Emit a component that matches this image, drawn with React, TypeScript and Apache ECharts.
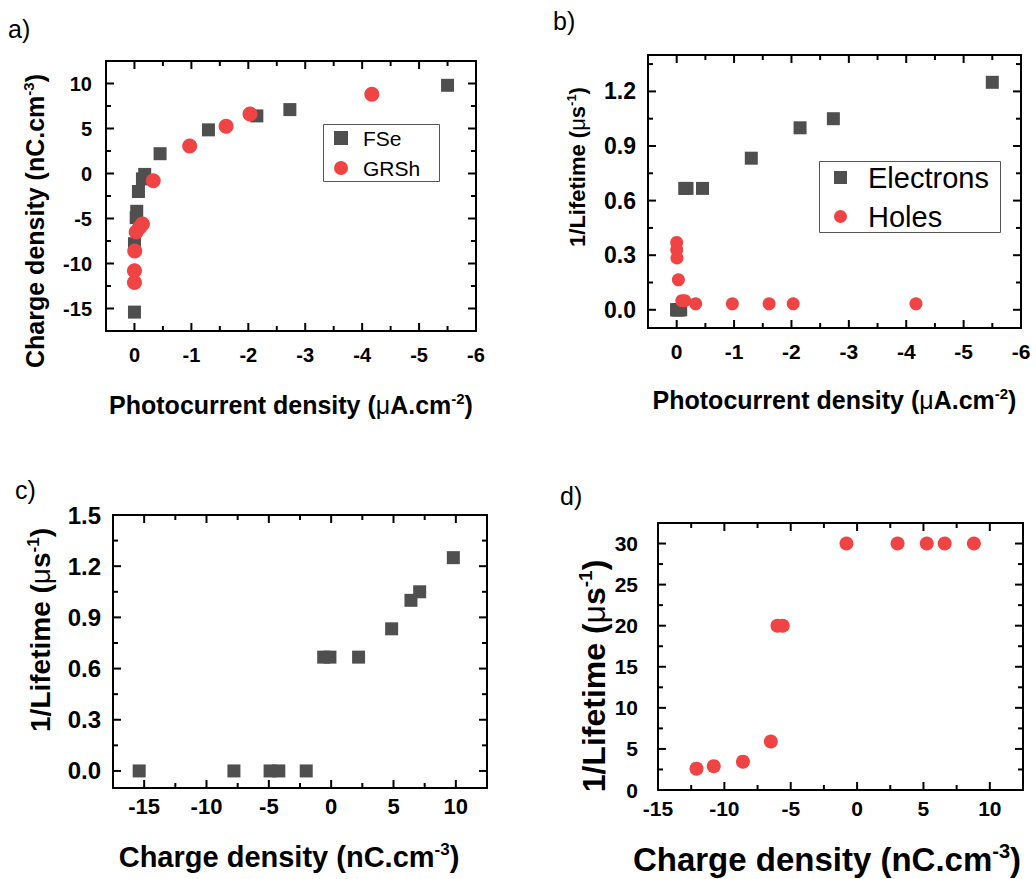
import React, { useEffect, useRef } from "react";
import * as echarts from "echarts";

// ---- data ----
// FSe / electrons
const fseCurrent = [0, 0, -0.03, -0.04, -0.07, -0.14, -0.18, -0.45, -1.3, -2.15, -2.73, -5.5];
const fseCharge = [-15.4, -7.8, -4.9, -4.2, -2.0, -0.6, -0.1, 2.2, 4.85, 6.4, 7.1, 9.8];
const fseInvLifetime = [0, 0, 0, 0, 0, 0.667, 0.667, 0.667, 0.833, 1.0, 1.05, 1.25];
// GRSh / holes
const grshCurrent = [0, 0, -0.005, -0.03, -0.09, -0.14, -0.33, -0.97, -1.61, -2.03, -4.17];
const grshCharge = [-12.1, -10.8, -8.6, -6.5, -6.0, -5.6, -0.8, 3.05, 5.25, 6.6, 8.8];
const holesInvLifetime = [0.37, 0.33, 0.285, 0.165, 0.05, 0.05, 0.033, 0.033, 0.033, 0.033, 0.033];
const holesLifetimeD = [2.6, 2.9, 3.45, 5.9, 20, 20, 30, 30, 30, 30, 30];

// axis ranges: [min, max, major, minor]
const axA_x = [-6, 0.5, 1, 0.5];
const axA_y = [-17.5, 12.5, 5, 2.5];
const axB_x = [-6, 0.5, 1, 0.5];
const axB_y = [-0.1, 1.4, 0.3, 0.15];
const axC_x = [-17.5, 12.5, 5, 2.5];
const axC_y = [-0.1, 1.5, 0.3, 0.15];
const axD_x = [-15, 12.5, 5, 2.5];
const axD_y = [0, 32.5, 5, 2.5];

const legendA = ["FSe", "GRSh"];
const legendB = ["Electrons", "Holes"];
const panelLabels = ["a)", "b)", "c)", "d)"];

const FONT = '"Liberation Sans", Arial, Helvetica, sans-serif';
const GRAY = "#4f4f4f";
const RED = "#f04343";

const zip = (a: number[], b: number[]) => a.map((v, i) => [v, b[i]]);

const isMult = (v: number, step: number) => {
  const r = v / step;
  return Math.abs(r - Math.round(r)) < 1e-6;
};
const fmtInt = (v: number) => (Math.abs(v) < 1e-9 ? "0" : String(Math.round(v)));
const fmt1 = (v: number) => (Math.abs(v) < 1e-9 ? "0.0" : v.toFixed(1));

const line = { show: true, onZero: false, lineStyle: { color: "#000", width: 2 } };

function richTitle(size: number) {
  return {
    t: { fontSize: size, fontWeight: "bold", fontFamily: FONT, color: "#000", lineHeight: Math.round(size * 1.1) },
    m: { fontSize: size, fontWeight: "normal", fontFamily: FONT, color: "#000", lineHeight: Math.round(size * 1.1) },
    s: {
      fontSize: Math.round(size * 0.6),
      fontWeight: "bold",
      fontFamily: FONT,
      color: "#000",
      verticalAlign: "top",
      lineHeight: Math.round(size * 0.6),
    },
  };
}

type AxOpts = {
  inverse?: boolean;
  fmt: (v: number) => string;
  fontSize: number;
  margin: number;
  name: string;
  nameSize: number;
  nameGap: number;
  namePad: number[];
};

// main axis (labels + line) and mirrored axis (line only)
function makeAxes(dim: "x" | "y", grid: number, r: number[], opts: AxOpts) {
  const [min, max, major] = r;
  const base: any = {
    type: "value",
    gridIndex: grid,
    min,
    max,
    splitLine: { show: false },
    minorTick: { show: false },
    axisTick: { show: false },
    minInterval: major,
    maxInterval: major,
    splitNumber: Math.round((max - min) / major),
  };
  if (opts.inverse) base.inverse = true;
  return [
    {
      ...base,
      position: dim === "x" ? "bottom" : "left",
      name: opts.name,
      nameLocation: "middle",
      nameGap: opts.nameGap,
      nameTextStyle: { rich: richTitle(opts.nameSize), padding: opts.namePad },
      axisLine: line,
      axisLabel: {
        show: true,
        showMinLabel: true,
        showMaxLabel: true,
        fontSize: opts.fontSize,
        fontWeight: "bold",
        fontFamily: FONT,
        color: "#000",
        margin: opts.margin,
        formatter: (v: number) => (isMult(v, major) ? opts.fmt(v) : ""),
      },
    },
    { ...base, position: dim === "x" ? "top" : "right", axisLine: line, axisLabel: { show: false } },
  ];
}

// tick values (inside the frame) generated from an axis range; kind offset 0 for x, 2 for y
function tickData(r: number[], kindBase: number) {
  const [min, max, major, minor] = r;
  const out: number[][] = [];
  const k0 = Math.ceil(min / minor - 1e-9);
  const k1 = Math.floor(max / minor + 1e-9);
  for (let k = k0; k <= k1; k++) {
    const v = Math.round(k * minor * 1e6) / 1e6;
    if (Math.abs(v - min) < 1e-9 || Math.abs(v - max) < 1e-9) continue;
    out.push([v, kindBase + (isMult(v, major) ? 0 : 1)]);
  }
  return out;
}

const tickStyle = { stroke: "#000", lineWidth: 2 };

function renderTick(params: any, api: any) {
  const v = api.value(0);
  const kind = api.value(1);
  const cs = params.coordSys;
  const len = kind % 2 === 0 ? 8 : 5;
  if (kind < 2) {
    const px = api.coord([v, 0])[0];
    const yb = cs.y + cs.height;
    return {
      type: "group",
      children: [
        { type: "line", shape: { x1: px, y1: yb, x2: px, y2: yb - len }, style: tickStyle },
        { type: "line", shape: { x1: px, y1: cs.y, x2: px, y2: cs.y + len }, style: tickStyle },
      ],
    };
  }
  const py = api.coord([0, v])[1];
  const xr = cs.x + cs.width;
  return {
    type: "group",
    children: [
      { type: "line", shape: { x1: cs.x, y1: py, x2: cs.x + len, y2: py }, style: tickStyle },
      { type: "line", shape: { x1: xr, y1: py, x2: xr - len, y2: py }, style: tickStyle },
    ],
  };
}

function tickSeries(panel: number, rx: number[], ry: number[]) {
  return {
    type: "custom",
    name: "ticks " + panel,
    xAxisIndex: panel * 2,
    yAxisIndex: panel * 2,
    clip: false,
    silent: true,
    z: 1,
    renderItem: renderTick,
    data: [...tickData(rx, 0), ...tickData(ry, 2)],
  };
}

const photoTitle = "{t|Photocurrent density (}{m|μ}{t|A.cm}{s|-2}{t|)}";
const chargeTitle = "{t|Charge density (nC.cm}{s|-3}{t|)}";
const lifeTitle = "{t|1/Lifetime (}{m|μ}{t|s}{s|-1}{t|)}";

function panelTitle(text: string, left: number, top: number) {
  return {
    text,
    left,
    top,
    padding: 0,
    textStyle: { fontSize: 25, fontWeight: "normal", fontFamily: FONT, color: "#000" },
  };
}

// legend boxes drawn as bordered text blocks
function legendBox(
  names: string[],
  left: number,
  top: number,
  opt: { icon: number; gap: number; font: number; lh: number; pad: number[] }
) {
  const mid = { verticalAlign: "middle", lineHeight: opt.lh };
  return {
    text: `{sq| }{g| }{tx|${names[0]}}\n{ci| }{g| }{tx|${names[1]}}`,
    left,
    top,
    padding: opt.pad,
    borderColor: "#555",
    borderWidth: 1,
    textStyle: {
      rich: {
        sq: { ...mid, width: opt.icon, height: opt.icon, backgroundColor: GRAY },
        ci: { ...mid, width: opt.icon, height: opt.icon, backgroundColor: RED, borderRadius: opt.icon / 2 },
        g: { ...mid, width: opt.gap, fontSize: 10 },
        tx: { ...mid, fontSize: opt.font, fontFamily: FONT, fontWeight: "normal", color: "#000" },
      },
    },
  };
}

export default function App() {
  const ref = useRef<HTMLDivElement>(null);
  useEffect(() => {
    if (!ref.current) return;
    const chart = echarts.init(ref.current, undefined, { renderer: "svg" });
    const xAxis = [
      ...makeAxes("x", 0, axA_x, { inverse: true, fmt: fmtInt, fontSize: 20, margin: 14, name: photoTitle, nameSize: 25, nameGap: 60, namePad: [0, 0, 0, 0] }),
      ...makeAxes("x", 1, axB_x, { inverse: true, fmt: fmtInt, fontSize: 21, margin: 13, name: photoTitle, nameSize: 25, nameGap: 58, namePad: [0, 0, 0, 0] }),
      ...makeAxes("x", 2, axC_x, { fmt: fmtInt, fontSize: 22, margin: 7, name: chargeTitle, nameSize: 29, nameGap: 53, namePad: [0, 22, 0, 0] }),
      ...makeAxes("x", 3, axD_x, { fmt: fmtInt, fontSize: 21, margin: 8, name: chargeTitle, nameSize: 33, nameGap: 51, namePad: [0, 27, 0, 0] }),
    ];
    const yAxis = [
      ...makeAxes("y", 0, axA_y, { fmt: fmtInt, fontSize: 20, margin: 14, name: chargeTitle, nameSize: 25, nameGap: 57, namePad: [0, 50, 0, 0] }),
      ...makeAxes("y", 1, axB_y, { fmt: fmt1, fontSize: 23, margin: 12, name: lifeTitle, nameSize: 22, nameGap: 59, namePad: [0, 0, 0, 49] }),
      ...makeAxes("y", 2, axC_y, { fmt: fmt1, fontSize: 24, margin: 12, name: lifeTitle, nameSize: 28, nameGap: 57, namePad: [0, 0, 0, 43] }),
      ...makeAxes("y", 3, axD_y, { fmt: fmtInt, fontSize: 21, margin: 20, name: lifeTitle, nameSize: 32, nameGap: 47, namePad: [0, 39, 0, 0] }),
    ];
    const option = {
      animation: false,
      backgroundColor: "#fff",
      title: [
        panelTitle(panelLabels[0], 8, 16),
        panelTitle(panelLabels[1], 553, 8),
        panelTitle(panelLabels[2], 15, 477),
        panelTitle(panelLabels[3], 560, 483),
        legendBox(legendA, 323, 120, { icon: 14, gap: 15, font: 21, lh: 30, pad: [3, 20, 3, 11] }),
        legendBox(legendB, 819, 156, { icon: 13, gap: 21, font: 29, lh: 39, pad: [2, 12, 2, 15] }),
      ],
      grid: [
        { left: 106, top: 61, width: 370, height: 270 },
        { left: 648, top: 55, width: 373, height: 273 },
        { left: 113, top: 515, width: 374, height: 273 },
        { left: 658, top: 523, width: 365, height: 267 },
      ],
      xAxis,
      yAxis,
      series: [
        tickSeries(0, axA_x, axA_y),
        tickSeries(1, axB_x, axB_y),
        tickSeries(2, axC_x, axC_y),
        tickSeries(3, axD_x, axD_y),
        {
          name: legendA[0],
          type: "scatter",
          xAxisIndex: 0,
          yAxisIndex: 0,
          symbol: "rect",
          symbolSize: 13,
          itemStyle: { color: GRAY, opacity: 1 },
          data: zip(fseCurrent, fseCharge),
        },
        {
          name: legendA[1],
          type: "scatter",
          xAxisIndex: 0,
          yAxisIndex: 0,
          symbol: "circle",
          symbolSize: 15,
          itemStyle: { color: RED, opacity: 1 },
          data: zip(grshCurrent, grshCharge),
        },
        {
          name: legendB[0],
          type: "scatter",
          xAxisIndex: 2,
          yAxisIndex: 2,
          symbol: "rect",
          symbolSize: 13,
          itemStyle: { color: GRAY, opacity: 1 },
          data: zip(fseCurrent, fseInvLifetime),
        },
        {
          name: legendB[1],
          type: "scatter",
          xAxisIndex: 2,
          yAxisIndex: 2,
          symbol: "circle",
          symbolSize: 13,
          itemStyle: { color: RED, opacity: 1 },
          data: zip(grshCurrent, holesInvLifetime),
        },
        {
          name: "c: electrons",
          type: "scatter",
          xAxisIndex: 4,
          yAxisIndex: 4,
          symbol: "rect",
          symbolSize: 13,
          itemStyle: { color: GRAY, opacity: 1 },
          data: zip(fseCharge, fseInvLifetime),
        },
        {
          name: "d: holes",
          type: "scatter",
          xAxisIndex: 6,
          yAxisIndex: 6,
          symbol: "circle",
          symbolSize: 14,
          itemStyle: { color: RED, opacity: 1 },
          data: zip(grshCharge, holesLifetimeD),
        },
      ],
    };
    chart.setOption(option as any);
    return () => chart.dispose();
  }, []);
  return (
    <div
      ref={ref}
      style={{ position: "absolute", left: 0, top: 0, width: 1036, height: 879 }}
    />
  );
}
